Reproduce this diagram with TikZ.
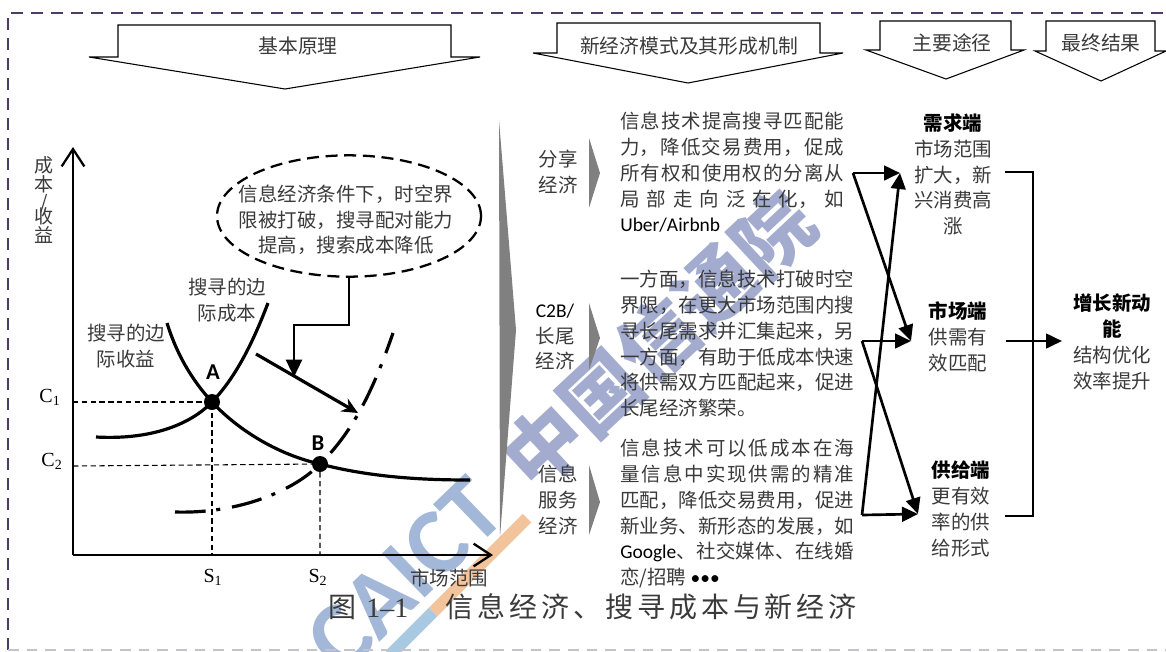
\documentclass[tikz,border=0pt]{standalone}
\usepackage{fontspec}
\setmainfont{Noto Sans CJK SC}
\newfontfamily\latinfont{Carlito}
\newfontfamily\numfont{Liberation Serif}
\newfontfamily\capfont{Noto Sans CJK SC}[LetterSpace=14]
\XeTeXlinebreaklocale "zh"
\XeTeXlinebreakskip=0pt plus 2pt
\hbadness=10000
\usetikzlibrary{arrows.meta,shapes.geometric}
\definecolor{framepurple}{HTML}{4B3D68}
\definecolor{framegray}{HTML}{C4C2CC}
\definecolor{txtgray}{HTML}{3A3A3A}
\definecolor{markblue}{HTML}{A3ACCF}
\definecolor{markcaict}{HTML}{A3B8D8}
\definecolor{markorange}{HTML}{F3C49B}
\definecolor{markstripe}{HTML}{A9C8E2}
\def\bodysize{\fontsize{14.6}{19.3}\selectfont}
\tikzset{
	coord/.style={x={(0.75pt,0pt)},y={(0pt,-0.75pt)}},
	MyFrame/.style={draw=framepurple,line width=2pt,dash pattern=on 9pt off 6pt},
	MyHead/.style={draw=black,line width=0.8pt,fill=white,line join=miter},
	MyText/.style={font=\bodysize,text=txtgray,inner sep=0pt,align=center},
	MyBlock/.style={MyText,text width=#1*0.75pt,align=justify,anchor=north west},
	MyLabel/.style={font=\numfont\fontsize{15}{17}\selectfont,text=black,inner sep=0pt},
	MyPoint/.style={font=\latinfont\bfseries\fontsize{17}{19}\selectfont,text=black,inner sep=0pt},
	MyWedge/.style={fill=black!50,draw=none},
	MyCurve/.style={line width=2.4pt,line cap=butt},
	MyGuide/.style={dashed,line width=0.8pt,dash pattern=on 4pt off 2.6pt},
	MyLink/.style={line width=2pt,-{Triangle[length=12pt,width=11pt]}}
}
\begin{document}
\begin{tikzpicture}[coord]
	\useasboundingbox (0,0) rectangle (1166,651);
	\clip (0,0) rectangle (1166,651);
	\fill[white] (0,0) rectangle (1166,651);

	% watermark
	\node[rotate=43,text=markblue,inner sep=0pt,font=\bfseries\fontsize{58.5}{60}\selectfont] (markcn) at (658,340) {中国信通院};
	\node[rotate=44,text=markcaict,inner sep=0pt,font=\latinfont\bfseries\fontsize{71}{73}\selectfont] (markcaict) at (405,575) {CAICT};
	\draw[markorange,line width=9pt] (527,518) -- (433,612);
	\draw[markstripe,line width=9pt] (433,612) -- (390,655);

	% frame
	\draw[MyFrame] (8,650) -- (8,13) -- (1166,13);
	\draw[framegray,line width=1.2pt,dash pattern=on 8pt off 6pt] (8,650) -- (1166,650);

	% headers
	\draw[MyHead] (118,25) -- (451,25) -- (451,57) -- (480,57) -- (285,89) -- (89,57) -- (118,57) -- cycle;
	\draw[MyHead] (557,23) -- (820,23) -- (820,53) -- (843,53) -- (688,83) -- (533,53) -- (557,53) -- cycle;
	\draw[MyHead] (880,21) -- (1011,21) -- (1011,50) -- (1024,50) -- (946,79) -- (866,50) -- (880,50) -- cycle;
	\draw[MyHead] (1046,21) -- (1155,21) -- (1155,51) -- (1166,51) -- (1101,81) -- (1035,51) -- (1046,51) -- cycle;
	\node[MyText,font=\fontsize{14.85}{18}\selectfont] (headbase) at (298,46) {基本原理};
	\node[MyText,font=\fontsize{14.85}{18}\selectfont] (headmodel) at (689,46) {新经济模式及其形成机制};
	\node[MyText,font=\fontsize{14.85}{18}\selectfont] (headpath) at (952,43) {主要途径};
	\node[MyText,font=\fontsize{14.85}{18}\selectfont] (headresult) at (1101,43) {最终结果};

	% axes
	\coordinate (origin) at (73,555);
	\coordinate (ytip) at (73,147);
	\coordinate (xtip) at (493,555);
	\draw[line width=1.7pt,-{Straight Barb[length=13pt,width=17pt,line width=1.7pt]}] (origin) -- (ytip);
	\draw[line width=1.7pt,-{Straight Barb[length=13pt,width=17pt,line width=1.7pt]}] (origin) -- (xtip);
	\node[MyText,font=\fontsize{14.25}{14.2}\selectfont] (ylabel) at (44,200) {成\\本\\/\\[-5pt]收\\益};
	\node[MyText] (xlabel) at (449,578) {市场范围};

	% curves
	\coordinate (pA) at (212,402);
	\coordinate (pB) at (320,464);
	\draw[MyCurve] (96,437) .. controls (150,440) and (190,425) .. (pA) .. controls (235,378) and (252,345) .. (268,303);
	\draw[MyCurve] (167,323) .. controls (177,355) and (192,380) .. (pA) .. controls (240,432) and (280,455) .. (pB) .. controls (370,477) and (420,480) .. (470,480);
	\draw[MyCurve,dash pattern=on 23pt off 8pt on 3pt off 9pt] (175,512) .. controls (240,514) and (295,490) .. (pB) .. controls (355,430) and (375,385) .. (393,333);
	\fill (pA) circle (8);
	\fill (pB) circle (8);

	% guides
	\coordinate (c1) at (73,402);
	\coordinate (c2) at (73,466);
	\coordinate (s1) at (212,555);
	\coordinate (s2) at (320,555);
	\draw[MyGuide] (c1) -- (pA) -- (s1);
	\draw[MyGuide] (c2) -- (pB) -- (s2);
	\node[MyLabel] (lc1) at (50,397) {C\textsubscript{1}};
	\node[MyLabel] (lc2) at (52,461) {C\textsubscript{2}};
	\node[MyLabel] (ls1) at (213,577) {S\textsubscript{1}};
	\node[MyLabel] (ls2) at (318,577) {S\textsubscript{2}};
	\node[MyPoint] (lA) at (213,372) {A};
	\node[MyPoint] (lB) at (318,443) {B};
	\node[MyText] (lcost) at (227,300) {搜寻的边\\际成本};
	\node[MyText] (lrev) at (126,346) {搜寻的边\\际收益};

	% cloud with the shift
	\node[draw,ellipse,dashed,line width=1.7pt,dash pattern=on 9pt off 5pt,minimum width=198pt,minimum height=91pt,inner sep=0pt] (cloud) at (349,216) {};
	\node[MyText] (cloudtext) at (346,220) {信息经济条件下，时空界\\限被打破，搜寻配对能力\\提高，搜索成本降低};
	\coordinate (shiftstart) at (256,354);
	\coordinate (shiftend) at (358,413);
	\coordinate (shifthit) at (294,377);
	\draw[line width=2.4pt,-{Stealth[length=12pt,width=11pt]}] (shiftstart) -- (shiftend);
	\draw[line width=1.7pt,-{Triangle[length=13pt,width=12pt]}] (cloud.south) |- (294,325) -- (shifthit);

	% grey wedges
	\fill[MyWedge] (499,120) -- (516,330) -- (500,537) -- cycle;
	\fill[MyWedge] (589,138) -- (600,173) -- (589,208) -- cycle;
	\fill[MyWedge] (589,303) -- (600,338) -- (589,370) -- cycle;
	\fill[MyWedge] (589,465) -- (600,502) -- (589,535) -- cycle;

	% models
	\node[MyText] (share) at (558,172) {分享\\经济};
	\node[MyText] (longtail) at (555,337) {{\latinfont\color{black} C2B/}\\长尾\\经济};
	\node[MyText] (service) at (558,500) {信息\\服务\\经济};
	\node[MyBlock=224] (sharebody) at (620,112) {信息技术提高搜寻匹配能\linebreak 力，降低交易费用，促成\linebreak 所有权和使用权的分离从\linebreak 局部走向泛在化，如\linebreak {\latinfont\color{black} Uber/Airbnb}};
	\node[MyBlock=234] (tailbody) at (620,270) {一方面，信息技术打破时空\linebreak 界限，在更大市场范围内搜\linebreak 寻长尾需求并汇集起来，另\linebreak 一方面，有助于低成本快速\linebreak 将供需双方匹配起来，促进\linebreak 长尾经济繁荣。};
	\node[MyBlock=234] (servicebody) at (620,439) {信息技术可以低成本在海\linebreak 量信息中实现供需的精准\linebreak 匹配，降低交易费用，促进\linebreak 新业务、新形态的发展，如\linebreak {\latinfont\color{black} Google}、社交媒体、在线婚\linebreak 恋/招聘\mbox{\latinfont\color{black}\ •••}};

	% paths
	\node[MyText] (demand) at (953,174.5) {{\color{black}\bfseries 需求端}\\市场范围\\扩大，新\\兴消费高\\涨};
	\node[MyText] (market) at (958,337) {{\color{black}\bfseries 市场端}\\供需有\\效匹配};
	\node[MyText] (supply) at (961,509) {{\color{black}\bfseries 供给端}\\更有效\\率的供\\给形式};
	\node[MyText] (growth) at (1112,342) {{\color{black}\bfseries 增长新动}\\{\color{black}\bfseries 能}\\结构优化\\效率提升};

	\coordinate (shareout) at (853,173);
	\coordinate (tailout) at (862,341);
	\coordinate (serviceout) at (862,515);
	\coordinate (demandin) at (900,173);
	\coordinate (marketin) at (911,341);
	\coordinate (supplyin) at (918,514);
	\draw[MyLink] (shareout) -- (demandin);
	\draw[MyLink] (shareout) -- (marketin);
	\draw[MyLink] (tailout) -- (marketin);
	\draw[MyLink] (tailout) -- (supplyin);
	\draw[MyLink] (serviceout) -- (supplyin);
	\draw[MyLink] (serviceout) -- (demandin);

	% merge
	\coordinate (demandout) at (1005,172);
	\coordinate (supplyout) at (1005,516);
	\coordinate (marketout) at (1006,341);
	\coordinate (growthin) at (1062,341);
	\draw[line width=2pt] (demandout) -- (1033,172) -- (1033,516) -- (supplyout);
	\draw[MyLink] (marketout) -- (growthin);

	% caption
	\node[inner sep=0pt,anchor=west,text=txtgray,font=\capfont\fontsize{21}{24}\selectfont] (caption) at (328,607) {图 {\numfont 1–1}\hspace{28pt}信息经济、搜寻成本与新经济};
\end{tikzpicture}
\end{document}
